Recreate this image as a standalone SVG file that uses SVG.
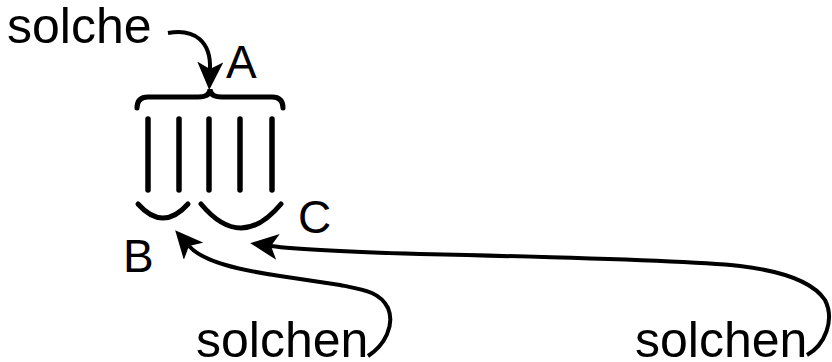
<svg xmlns="http://www.w3.org/2000/svg" width="832" height="362" viewBox="0 0 832 362">
<style>
text{font-family:"Liberation Sans",Arial,sans-serif;fill:#000}
.w{font-size:50px}
.l{font-size:46px}
.s{fill:none;stroke:#000;stroke-linecap:round}
.bar{stroke-width:5.5}
.arc{stroke-width:5}
.arr{stroke-width:4;stroke-linecap:butt}
</style>
<defs>
<marker id="ah" viewBox="0 0 28 26" refX="7" refY="13" markerWidth="28" markerHeight="26" markerUnits="userSpaceOnUse" orient="auto">
<path d="M0,0 L28,13 L0,26 L7,13 Z" fill="#000"/>
</marker>
</defs>
<g id="label-solche"><text class="w" x="7" y="43">solche</text></g>
<g id="label-A"><text class="l" x="226" y="78">A</text></g>
<g id="label-B"><text class="l" x="123" y="272">B</text></g>
<g id="label-C"><text class="l" x="298" y="233">C</text></g>
<g id="label-solchen1"><text class="w" x="196" y="357">solchen</text></g>
<g id="label-solchen2"><text class="w" x="635" y="357">solchen</text></g>
<g id="brace"><path class="s arc" d="M137,108 Q137,97 148,97 L198,97 Q210,97 210,89 Q210,97 222,97 L272,97 Q283,97 283,108"/></g>
<g id="bars">
<line class="s bar" x1="148" y1="119" x2="148" y2="190"/>
<line class="s bar" x1="179" y1="119" x2="179" y2="190"/>
<line class="s bar" x1="209" y1="119" x2="209" y2="190"/>
<line class="s bar" x1="240" y1="119" x2="240" y2="190"/>
<line class="s bar" x1="272" y1="119" x2="272" y2="190"/>
</g>
<g id="arc-B"><path class="s arc" d="M138,204 Q163,232 188,204"/></g>
<g id="arc-C"><path class="s arc" d="M201,204 Q241,252 281,204"/></g>
<g id="connectors">
<path class="s arr" marker-end="url(#ah)" d="M168,33 C195,28 211,42 210,69"/>
<path class="s arr" marker-end="url(#ah)" d="M368,356 C385,345 395,325 388,308 C380,292 365,290 340,285 L280,276 C240,270 203,262 189,246"/>
<path class="s arr" marker-end="url(#ah)" d="M807,355 C825,345 835,320 825,300 C815,285 790,272 740,266 C700,262 600,258 420,254 C350,252 300,250 271,246"/>
</g>
</svg>
